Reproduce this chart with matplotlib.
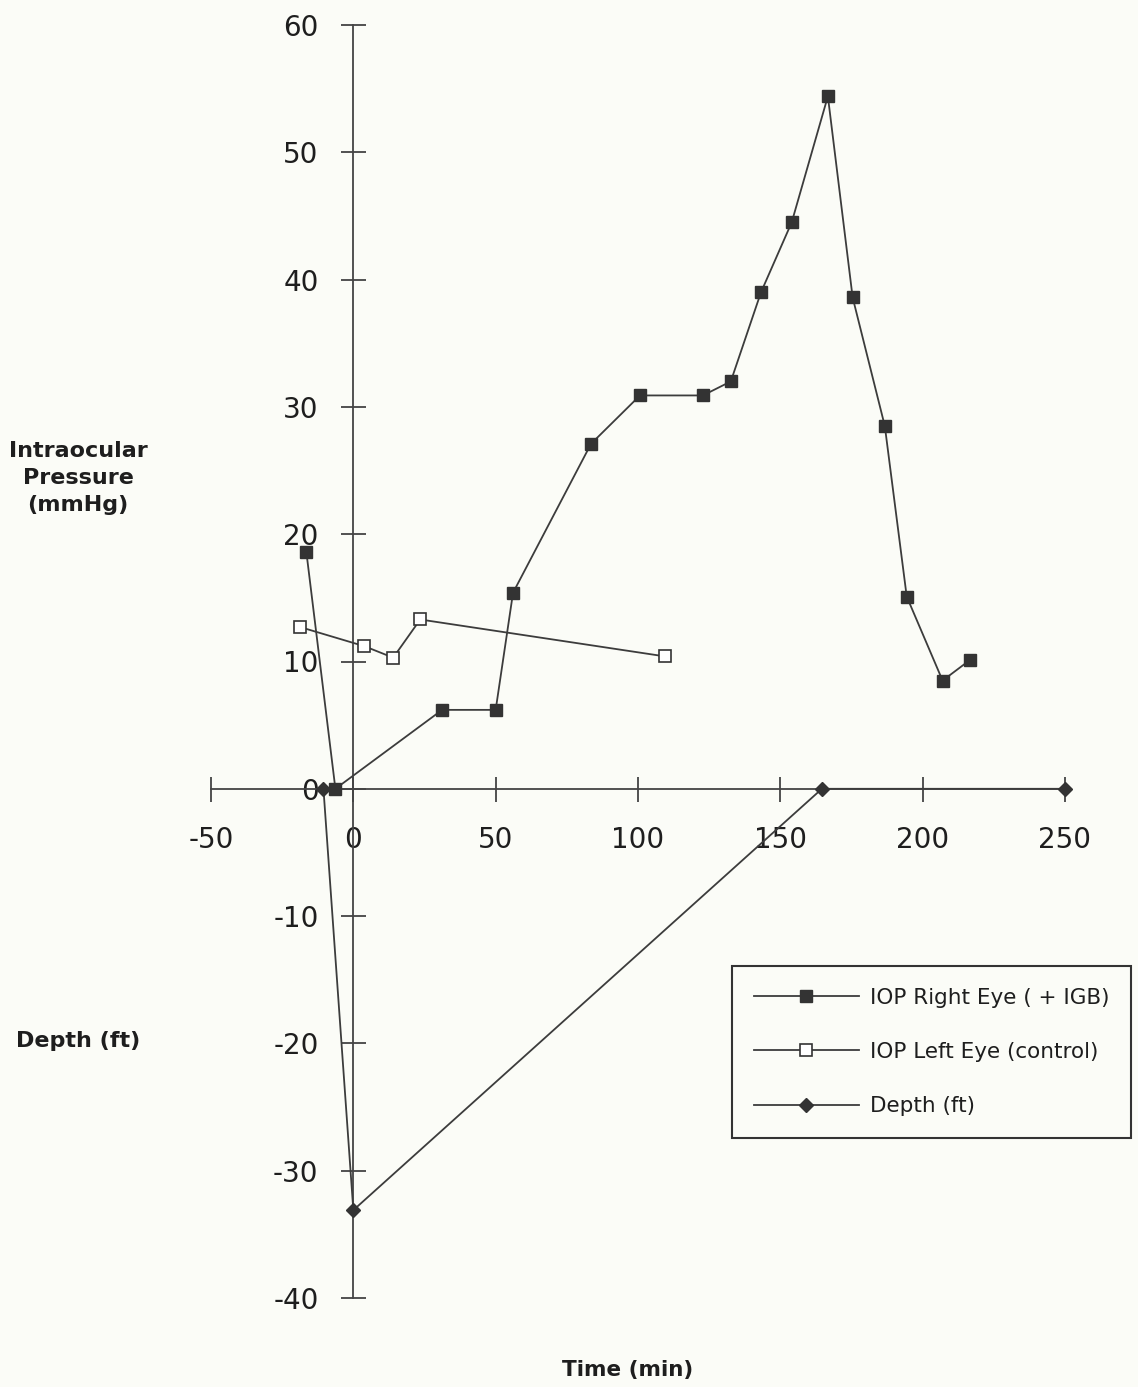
"""
Intraocular pressure of both eyes and dive depth plotted against time
"""

import matplotlib
matplotlib.use('Agg')
import matplotlib.pyplot as plt

# values
right_time = [-16.5, -6.3, 31.2, 50, 56.1, 83.5, 100.7, 122.8, 132.6, 143.2,
              154, 166.7, 175.4, 186.7, 194.4, 207, 216.5]
right_iop = [18.6, 0, 6.2, 6.2, 15.4, 27.1, 30.9, 30.9, 32, 39,
             44.5, 54.4, 38.6, 28.5, 15.1, 8.5, 10.1]

left_time = [-18.6, 3.9, 14, 23.5, 109.5]
left_iop = [12.7, 11.2, 10.3, 13.3, 10.4]

depth_time = [-10.5, 0, 164.6, 250]
depth_ft = [0, -33.1, 0, 0]

xticks = [-50, 0, 50, 100, 150, 200, 250]
yticks = [-40, -30, -20, -10, 0, 10, 20, 30, 40, 50, 60]

plt.rcParams['font.family'] = ['DejaVu Sans']
plt.rcParams['axes.unicode_minus'] = False  # plain hyphens like the original
bg = '#fbfcf7'
ink = '#333333'

fig = plt.figure(figsize=(11.38, 13.87), dpi=100, facecolor=bg)
ax = fig.add_axes([211/1138, 89/1387, 854/1138, 1273/1387], facecolor=bg)

# the chart has its axes crossing at the origin
ax.spines['left'].set_position(('data', 0))
ax.spines['bottom'].set_position(('data', 0))
ax.spines['top'].set_visible(False)
ax.spines['right'].set_visible(False)
for s in ['left', 'bottom']:
    ax.spines[s].set_color('#444444')
    ax.spines[s].set_linewidth(1.3)

ax.set_xlim(-50, 250)
ax.set_ylim(-40, 60)
ax.set_xticks(xticks)
ax.set_yticks(yticks)
ax.tick_params(axis='both', direction='inout', length=18, width=1.3,
               color='#444444', labelsize=20, labelcolor='#1e1e1e')
ax.tick_params(axis='y', pad=16)
ax.tick_params(axis='x', pad=18)

#makes the plot
ax.plot(right_time, right_iop, color='#3c3c3c', lw=1.3, marker='s',
        markersize=8.5, markerfacecolor=ink, markeredgecolor=ink,
        label='IOP Right Eye ( + IGB)', clip_on=False, zorder=3)
ax.plot(left_time, left_iop, color='#3c3c3c', lw=1.3, marker='s',
        markersize=9, markerfacecolor='white', markeredgecolor=ink,
        markeredgewidth=1.2, label='IOP Left Eye (control)', clip_on=False, zorder=3)
ax.plot(depth_time, depth_ft, color='#3c3c3c', lw=1.3, marker='D',
        markersize=7, markerfacecolor=ink, markeredgecolor=ink,
        label='Depth (ft)', clip_on=False, zorder=3)

# axis titles sit out in the margin
fig.text(78/1138, 1 - 478/1387, 'Intraocular\nPressure\n(mmHg)', ha='center', va='center',
         fontsize=16, fontweight='bold', color='#1e1e1e', linespacing=1.45)
fig.text(78/1138, 1 - 1041/1387, 'Depth (ft)', ha='center', va='center',
         fontsize=16, fontweight='bold', color='#1e1e1e')
fig.text(628/1138, 1 - 1370/1387, 'Time (min)', ha='center', va='center',
         fontsize=15.5, fontweight='bold', color='#1e1e1e')

leg = ax.legend(loc='upper left', bbox_to_anchor=(732/1138, 1 - 966/1387),
                bbox_transform=fig.transFigure, borderaxespad=0, fontsize=15.5,
                frameon=True, fancybox=False, edgecolor='#333333', facecolor=bg,
                framealpha=1, handlelength=4.9, handletextpad=0.5,
                labelspacing=1.6, borderpad=1.0)
leg.get_frame().set_linewidth(1.5)
for t in leg.get_texts():
    t.set_color('#1e1e1e')

fig.savefig('out.png', dpi=100, facecolor=bg)
